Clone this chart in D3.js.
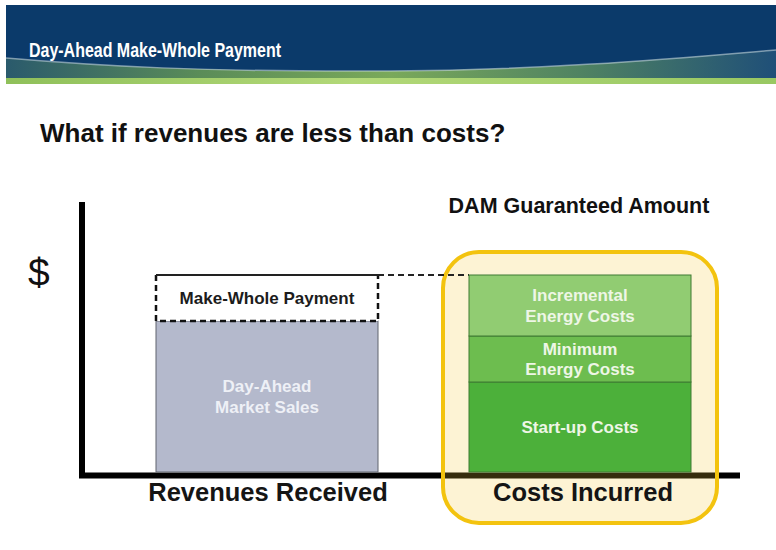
<!DOCTYPE html>
<html>
<head>
<meta charset="utf-8">
<script src="https://cdn.jsdelivr.net/npm/d3@7"></script>
<style>
  html, body { margin: 0; padding: 0; background: #fff; }
  svg { display: block; font-family: "Liberation Sans", Arial, sans-serif; }
</style>
</head>
<body>
<svg id="chart" width="776" height="550"></svg>
<script>
// Categories on the x axis
var categories = ["Revenues Received", "Costs Incurred"];
// Revenue stack, bottom to top
var revenueLabels = [["Day-Ahead", "Market Sales"], ["Make-Whole Payment"]];
var revenueValues = [151, 46];
// Cost stack, bottom to top
var costLabels = [["Start-up Costs"], ["Minimum", "Energy Costs"], ["Incremental", "Energy Costs"]];
var costValues = [90, 46, 61];

var svg = d3.select("#chart");
var defs = svg.append("defs");

// ---- header band
var swoosh = defs.append("linearGradient").attr("id", "swoosh").attr("x1", 0).attr("y1", 0).attr("x2", 1).attr("y2", 0);
swoosh.append("stop").attr("offset", "0%").attr("stop-color", "#2a5a6c");
swoosh.append("stop").attr("offset", "25%").attr("stop-color", "#5a8c58");
swoosh.append("stop").attr("offset", "50%").attr("stop-color", "#7aa95a");
swoosh.append("stop").attr("offset", "75%").attr("stop-color", "#4f8262");
swoosh.append("stop").attr("offset", "100%").attr("stop-color", "#1f4f78");
var green = defs.append("linearGradient").attr("id", "greenband").attr("x1", 0).attr("y1", 0).attr("x2", 1).attr("y2", 0);
green.append("stop").attr("offset", "0%").attr("stop-color", "#8fc05a");
green.append("stop").attr("offset", "45%").attr("stop-color", "#b2d878");
green.append("stop").attr("offset", "100%").attr("stop-color", "#98c862");

svg.append("rect").attr("x", 6).attr("y", 5).attr("width", 770).attr("height", 76).attr("fill", "#0b3a6a");
var swooshTop = "M6,58 C100,66 200,72 390,71 C550,70 680,58 776,50";
svg.append("path")
    .attr("d", swooshTop + " L776,80 L6,80 Z")
    .attr("fill", "url(#swoosh)");
svg.append("path").attr("d", swooshTop)
    .attr("fill", "none").attr("stroke", "#c4d6dc").attr("stroke-width", 1.5).attr("opacity", 0.6);
svg.append("rect").attr("x", 6).attr("y", 78).attr("width", 770).attr("height", 6).attr("fill", "url(#greenband)");

svg.append("text").attr("x", 29).attr("y", 57)
    .attr("fill", "#ffffff").attr("font-weight", "bold").attr("font-size", 20)
    .attr("textLength", 252).attr("lengthAdjust", "spacingAndGlyphs")
    .text("Day-Ahead Make-Whole Payment");

svg.append("text").attr("x", 40).attr("y", 142)
    .attr("fill", "#111").attr("font-weight", "bold").attr("font-size", 26)
    .text("What if revenues are less than costs?");

// ---- scales
var x = d3.scaleBand().domain(categories).range([156, 691]).paddingInner(91 / 313).paddingOuter(0);
var y = d3.scaleLinear().domain([0, 270]).range([472, 202]);

// axes
var g = svg.append("g");
g.append("line").attr("x1", 82).attr("x2", 82).attr("y1", y(270)).attr("y2", 478)
    .attr("stroke", "#000").attr("stroke-width", 6);
g.append("line").attr("x1", 79).attr("x2", 740).attr("y1", 475.5).attr("y2", 475.5)
    .attr("stroke", "#000").attr("stroke-width", 6);

svg.append("text").attr("x", 28).attr("y", 286)
    .attr("fill", "#111").attr("font-size", 39).text("$");

// stacked positions
function stack(values) {
    var tops = d3.cumsum(values);
    return values.map(function(v, i) { return { y0: tops[i] - v, y1: tops[i] }; });
}
var rev = stack(revenueValues);
var cost = stack(costValues);
var bw = x.bandwidth();
var xr = x(categories[0]), xc = x(categories[1]);

// guaranteed amount highlight box
svg.append("rect")
    .attr("x", xc - 26).attr("y", y(d3.sum(costValues)) - 23)
    .attr("width", bw + 52).attr("height", 271)
    .attr("rx", 36).attr("ry", 36)
    .attr("fill", "rgba(248,200,60,0.22)")
    .attr("stroke", "#f3c30f").attr("stroke-width", 4);

svg.append("text").attr("x", 579).attr("y", 213).attr("text-anchor", "middle")
    .attr("fill", "#111").attr("font-weight", "bold").attr("font-size", 21.5)
    .text("DAM Guaranteed Amount");

// revenue bar: market sales
svg.append("rect")
    .attr("x", xr).attr("y", y(rev[0].y1)).attr("width", bw).attr("height", y(rev[0].y0) - y(rev[0].y1))
    .attr("fill", "#b4b9cc").attr("stroke", "#60646f").attr("stroke-width", 1);
// make-whole payment (dashed box)
var mwTop = y(rev[1].y1), mwBot = y(rev[1].y0);
svg.append("rect")
    .attr("x", xr).attr("y", mwTop).attr("width", bw).attr("height", mwBot - mwTop)
    .attr("fill", "#fff");
svg.append("path")
    .attr("d", "M" + xr + "," + mwTop + "V" + mwBot + "H" + (xr + bw) + "V" + mwTop)
    .attr("fill", "none").attr("stroke", "#111").attr("stroke-width", 2.5).attr("stroke-dasharray", "6,4");
svg.append("line").attr("x1", xr).attr("x2", xr + bw).attr("y1", mwTop).attr("y2", mwTop)
    .attr("stroke", "#222").attr("stroke-width", 2);
// dashed link to cost top
svg.append("line").attr("x1", xr + bw).attr("x2", xc).attr("y1", y(d3.sum(costValues))).attr("y2", y(d3.sum(costValues)))
    .attr("stroke", "#222").attr("stroke-width", 2).attr("stroke-dasharray", "6,4");

// cost bars
var costColors = ["#4cb03a", "#6dbd4f", "#91cc72"];
svg.selectAll("rect.cost").data(cost).enter().append("rect").attr("class", "cost")
    .attr("x", xc).attr("y", function(d) { return y(d.y1); })
    .attr("width", bw).attr("height", function(d) { return y(d.y0) - y(d.y1); })
    .attr("fill", function(d, i) { return costColors[i]; })
    .attr("stroke", "#3f7a33").attr("stroke-width", 1);

// bar labels
function labels(parts, lines, x0, color) {
    parts.forEach(function(d, i) {
        var cy = (y(d.y0) + y(d.y1)) / 2;
        var n = lines[i].length;
        var t = svg.append("text").attr("text-anchor", "middle")
            .attr("fill", color[i]).attr("font-weight", "bold").attr("font-size", 17);
        lines[i].forEach(function(s, k) {
            t.append("tspan").attr("x", x0 + bw / 2)
                .attr("y", cy + 6 + (k - (n - 1) / 2) * 20.5).text(s);
        });
    });
}
labels(rev, revenueLabels, xr, ["#eef0f6", "#1c1c1c"]);
labels(cost, costLabels, xc, ["#eef6e6", "#eef6e6", "#eef6e6"]);

// category labels
svg.selectAll("text.cat").data(categories).enter().append("text").attr("class", "cat")
    .attr("x", function(d) { return x(d) + bw / 2 + (d === categories[0] ? 1 : 3); })
    .attr("y", 501).attr("text-anchor", "middle")
    .attr("fill", "#151515").attr("font-weight", "bold").attr("font-size", 25.5)
    .text(function(d) { return d; });
</script>
</body>
</html>
